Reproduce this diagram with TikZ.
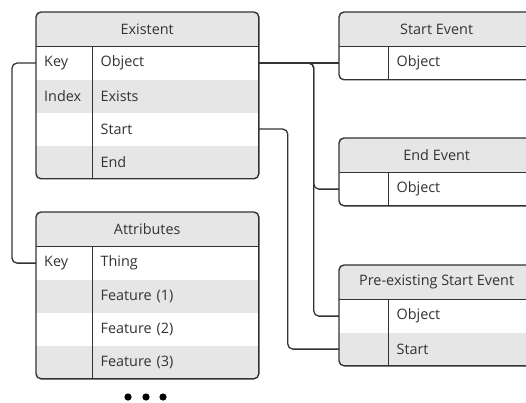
\documentclass[tikz,border=0pt]{standalone}
\usepackage{fontspec}
\setmainfont{Open Sans}
\usepackage{tikz}
\usetikzlibrary{positioning}
\definecolor{rowgray}{HTML}{E6E6E6}
\definecolor{inkgray}{HTML}{333333}
\tikzset{
  hdr/.style={fill=rowgray, minimum height=34pt, inner sep=0pt, anchor=north west,
    text=inkgray, font=\fontsize{14.4}{16}\selectfont},
  keycell/.style={minimum height=33pt, inner xsep=8pt, inner ysep=0pt, align=left,
    anchor=north west, text=inkgray, font=\fontsize{14.4}{16}\selectfont},
  fieldcell/.style={minimum height=33pt, inner xsep=8pt, inner ysep=0pt, align=left,
    text=inkgray, font=\fontsize{14.4}{16}\selectfont},
  border/.style={draw=inkgray, line width=1.4pt},
  wire/.style={draw=inkgray, line width=1.3pt, rounded corners=5pt}
}

\begin{document}
\begin{tikzpicture}[x=1pt,y=-1pt]
\useasboundingbox (0,0) rectangle (526,403);
\clip (0,0) rectangle (526,403);

% Existent
\begin{scope}
\clip[rounded corners=5pt] (36,12) rectangle (258,178);
\node[hdr, minimum width=222pt] (ex) at (36,12) {Existent};
\foreach \k/\f/\c [count=\i] in {Key/Object/white, Index/Exists/rowgray, /Start/white, /End/rowgray} {
  \node[keycell, text width=40pt, fill=\c, yshift={-33*(\i-1)}] (ex-k\i) at (ex.south west) {\k};
  \node[fieldcell, text width=150pt, fill=\c, right=0pt of ex-k\i] (ex-f\i) {\f};
}
\end{scope}
\draw[border] (ex.south west) -- (ex.south east);
\draw[border] (ex-k1.north east) -- (ex-k4.south east);
\draw[border, rounded corners=5pt] (ex.north west) rectangle (ex-f4.south east);

% Attributes
\begin{scope}
\clip[rounded corners=5pt] (36,212) rectangle (258,378);
\node[hdr, minimum width=222pt] (at) at (36,212) {Attributes};
\foreach \k/\f/\c [count=\i] in {Key/Thing/white, /Feature (1)/rowgray, /Feature (2)/white, /Feature (3)/rowgray} {
  \node[keycell, text width=40pt, fill=\c, yshift={-33*(\i-1)}] (at-k\i) at (at.south west) {\k};
  \node[fieldcell, text width=150pt, fill=\c, right=0pt of at-k\i] (at-f\i) {\f};
}
\end{scope}
\draw[border] (at.south west) -- (at.south east);
\draw[border] (at-k1.north east) -- (at-k4.south east);
\draw[border, rounded corners=5pt] (at.north west) rectangle (at-f4.south east);

\foreach \dx in {128,146,163}
  \fill[black] (\dx,397) circle (3.6);

% Start Event
\begin{scope}
\clip[rounded corners=5pt] (339,12) rectangle (534,79);
\node[hdr, minimum width=195pt] (se) at (339,12) {Start Event};
\node[keycell, text width=33pt, fill=white] (se-k1) at (se.south west) {};
\node[fieldcell, text width=130pt, fill=white, right=0pt of se-k1] (se-f1) {Object};
\end{scope}
\draw[border] (se.south west) -- (se.south east);
\draw[border] (se-k1.north east) -- (se-k1.south east);
\draw[border, rounded corners=5pt] (se.north west) rectangle (se-f1.south east);

% End Event
\begin{scope}
\clip[rounded corners=5pt] (339,138) rectangle (534,205);
\node[hdr, minimum width=195pt] (ee) at (339,138) {End Event};
\node[keycell, text width=33pt, fill=white] (ee-k1) at (ee.south west) {};
\node[fieldcell, text width=130pt, fill=white, right=0pt of ee-k1] (ee-f1) {Object};
\end{scope}
\draw[border] (ee.south west) -- (ee.south east);
\draw[border] (ee-k1.north east) -- (ee-k1.south east);
\draw[border, rounded corners=5pt] (ee.north west) rectangle (ee-f1.south east);

% Pre-existing Start Event
\begin{scope}
\clip[rounded corners=5pt] (339,265) rectangle (534,365);
\node[hdr, minimum width=195pt] (pe) at (339,265) {Pre-existing Start Event};
\foreach \f/\c [count=\i] in {Object/white, Start/rowgray} {
  \node[keycell, text width=33pt, fill=\c, yshift={-33*(\i-1)}] (pe-k\i) at (pe.south west) {};
  \node[fieldcell, text width=130pt, fill=\c, right=0pt of pe-k\i] (pe-f\i) {\f};
}
\end{scope}
\draw[border] (pe.south west) -- (pe.south east);
\draw[border] (pe-k1.north east) -- (pe-k2.south east);
\draw[border, rounded corners=5pt] (pe.north west) rectangle (pe-f2.south east);

% links
\draw[wire] (ex-k1.west) -- ++(-24,0) |- (at-k1.west);
\draw[wire] (ex-f1.east) -- (se-k1.west);
\draw[wire] (ex-f1.east) -- ++(55,0) |- (ee-k1.west);
\draw[wire] (ex-f1.east) -- ++(55,0) |- (pe-k1.west);
\draw[wire] (ex-f3.east) -- ++(29,0) |- (pe-k2.west);
\end{tikzpicture}
\end{document}
